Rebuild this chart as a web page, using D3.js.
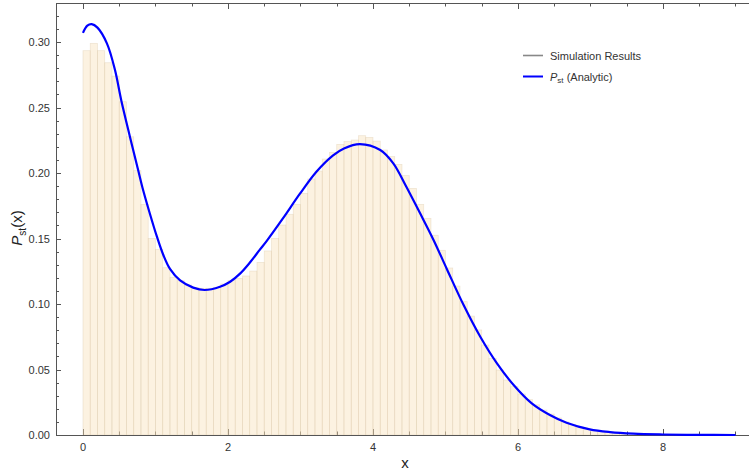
<!DOCTYPE html>
<html>
<head>
<meta charset="utf-8">
<script src="https://cdn.jsdelivr.net/npm/d3@7"></script>
<style>
  body { margin: 0; background: #fff; }
  svg text { font-family: "Liberation Sans", Arial, sans-serif; }
</style>
</head>
<body>
<div id="chart"></div>
<script>
//Data

	//Histogram: bins of width 0.1 starting at x = 0
	var binStart = 0,
		binWidth = 0.1;
	var simHeights = [
		0.2934, 0.2990, 0.2934, 0.2842, 0.2740, 0.2544, 0.2277, 0.2018, 0.1760, 0.1500,
		0.1417, 0.1277, 0.1204, 0.1178, 0.1145, 0.1125, 0.1120, 0.1120, 0.1127, 0.1153,
		0.1180, 0.1196, 0.1214, 0.1252, 0.1318, 0.1405, 0.1501, 0.1603, 0.1685, 0.1761,
		0.1845, 0.1954, 0.2015, 0.2107, 0.2158, 0.2219, 0.2240, 0.2252, 0.2285, 0.2272,
		0.2244, 0.2176, 0.2125, 0.2066, 0.1980, 0.1883, 0.1761, 0.1654, 0.1525, 0.1410,
		0.1275, 0.1137, 0.1018, 0.0908, 0.0802, 0.0687, 0.0585, 0.0496, 0.0420, 0.0369,
		0.0313, 0.0270, 0.0230, 0.0190, 0.0160, 0.0130, 0.0100, 0.0080, 0.0060, 0.0045,
		0.0035, 0.0025, 0.0020, 0.0015, 0.0010
	];

	//Analytic curve sample points
	var curveX = [0, 0.06, 0.12, 0.2, 0.33, 0.44, 0.53, 0.65, 0.76, 0.82, 0.92, 1.02, 1.11, 1.2,
		1.34, 1.52, 1.68, 1.89, 2.03, 2.17, 2.3, 2.44, 2.53, 2.76, 2.99, 3.22, 3.45, 3.6, 3.82,
		4.1, 4.28, 4.46, 4.65, 4.83, 5.02, 5.25, 5.48, 5.71, 5.94, 6.19, 6.44, 6.67, 6.99, 7.27,
		7.59, 8, 8.5, 9];
	var curveY = [0.307, 0.3125, 0.3137, 0.311, 0.299, 0.2790, 0.2550, 0.2272, 0.2025, 0.1890,
		0.1695, 0.1514, 0.1372, 0.1268, 0.1180, 0.1125, 0.1107, 0.1132, 0.117, 0.1234, 0.1315,
		0.1415, 0.1478, 0.1655, 0.1840, 0.2010, 0.2135, 0.2188, 0.2221, 0.2176, 0.2074, 0.1895,
		0.1692, 0.1495, 0.1266, 0.0992, 0.075, 0.0547, 0.0382, 0.0242, 0.0153, 0.0094, 0.0043,
		0.0022, 0.001, 0.0004, 0.0001, 0];

	//Ticks
	var xMajorTicks = [0, 2, 4, 6, 8];
	var xMinorTicks = [0.5, 1, 1.5, 2.5, 3, 3.5, 4.5, 5, 5.5, 6.5, 7, 7.5, 8.5, 9];
	var yMajorTicks = [0, 0.05, 0.10, 0.15, 0.20, 0.25, 0.30];
	var yMinorTicks = [0.01, 0.02, 0.03, 0.04, 0.06, 0.07, 0.08, 0.09, 0.11, 0.12, 0.13, 0.14,
		0.16, 0.17, 0.18, 0.19, 0.21, 0.22, 0.23, 0.24, 0.26, 0.27, 0.28, 0.29, 0.31, 0.32];

	var legendLabels = ["Simulation Results", "(Analytic)"];

//Canvas
	var W = 749, H = 472;
	var plot = {left: 56, right: 760, top: 3, bottom: 435};

	var xScale = d3.scaleLinear().domain([-0.372, 9.338]).range([plot.left, plot.right]);
	var yScale = d3.scaleLinear().domain([0, 0.3298]).range([plot.bottom, plot.top]);

	var svg = d3.select("#chart")
		.append("svg")
		.attr("width", W)
		.attr("height", H);

	var frameColor = "#555";

//Ticks go under the bars (the bars are see-through)
	var tickG = svg.append("g").attr("stroke", frameColor).attr("stroke-width", 1);

	function xTicks(list, len) {
		list.forEach(function(v) {
			var px = Math.round(xScale(v)) + 0.5;
			tickG.append("line").attr("x1", px).attr("x2", px)
				.attr("y1", plot.bottom).attr("y2", plot.bottom - len);
			tickG.append("line").attr("x1", px).attr("x2", px)
				.attr("y1", plot.top).attr("y2", plot.top + len);
		});
	}
	xTicks(xMajorTicks, 6);
	xTicks(xMinorTicks, 3.5);

	function yTicks(list, len) {
		list.forEach(function(v) {
			var py = Math.round(yScale(v)) + 0.5;
			tickG.append("line").attr("x1", plot.left).attr("x2", plot.left + len)
				.attr("y1", py).attr("y2", py);
		});
	}
	yTicks(yMajorTicks, 5);
	yTicks(yMinorTicks, 3);

//Histogram bars
	svg.append("g")
		.selectAll("rect")
		.data(simHeights)
		.enter()
		.append("rect")
			.attr("x", function(d, i) { return xScale(binStart + i * binWidth); })
			.attr("width", function(d, i) { return xScale(binStart + (i + 1) * binWidth) - xScale(binStart + i * binWidth); })
			.attr("y", function(d) { return yScale(d); })
			.attr("height", function(d) { return yScale(0) - yScale(d); })
			.attr("fill", "#f8dcb0")
			.attr("fill-opacity", 0.38)
			.attr("stroke", "#d8c2a2")
			.attr("stroke-opacity", 0.4)
			.attr("stroke-width", 0.7);

//Frame
	var frame = svg.append("g").attr("stroke", frameColor).attr("stroke-width", 1).attr("fill", "none");
	frame.append("line").attr("x1", plot.left + 0.5).attr("x2", plot.left + 0.5).attr("y1", plot.top).attr("y2", plot.bottom + 0.5);
	frame.append("line").attr("x1", plot.left).attr("x2", plot.right).attr("y1", plot.bottom + 0.5).attr("y2", plot.bottom + 0.5);
	frame.append("line").attr("x1", plot.left).attr("x2", plot.right).attr("y1", plot.top + 0.5).attr("y2", plot.top + 0.5);

//Tick labels
	svg.append("g").selectAll("text")
		.data(xMajorTicks)
		.enter()
		.append("text")
			.attr("x", function(d) { return xScale(d); })
			.attr("y", plot.bottom + 16)
			.attr("text-anchor", "middle")
			.attr("font-size", 11)
			.attr("fill", "#333")
			.text(function(d) { return d; });

	svg.append("g").selectAll("text")
		.data(yMajorTicks)
		.enter()
		.append("text")
			.attr("x", plot.left - 6)
			.attr("y", function(d) { return yScale(d) + 4; })
			.attr("text-anchor", "end")
			.attr("font-size", 11)
			.attr("fill", "#333")
			.text(function(d) { return d3.format(".2f")(d); });

//Axis labels
	svg.append("text")
		.attr("x", 405)
		.attr("y", 468)
		.attr("text-anchor", "middle")
		.attr("font-size", 15)
		.attr("fill", "#222")
		.text("x");

	var yLab = svg.append("text")
		.attr("transform", "translate(22,228) rotate(-90)")
		.attr("text-anchor", "middle")
		.attr("font-size", 15)
		.attr("fill", "#222");
	yLab.append("tspan").attr("font-style", "italic").text("P");
	yLab.append("tspan").attr("font-size", 10).attr("dy", 4).text("st");
	yLab.append("tspan").attr("dy", -4).text("(x)");

//Analytic curve
	var curvePts = curveX.map(function(x, i) { return [x, curveY[i]]; });
	var line = d3.line()
		.x(function(d) { return xScale(d[0]); })
		.y(function(d) { return yScale(d[1]); })
		.curve(d3.curveCatmullRom.alpha(0.5));

	svg.append("path")
		.datum(curvePts)
		.attr("d", line)
		.attr("fill", "none")
		.attr("stroke", "#0000ff")
		.attr("stroke-width", 2.2)
		.attr("stroke-linejoin", "round");

//Legend
	var lg = svg.append("g").attr("font-size", 11).attr("fill", "#333");
	lg.append("line").attr("x1", 523).attr("x2", 543).attr("y1", 55.5).attr("y2", 55.5)
		.attr("stroke", "#888").attr("stroke-width", 1.6);
	lg.append("text").attr("x", 550).attr("y", 59.5).text(legendLabels[0]);
	lg.append("line").attr("x1", 523).attr("x2", 543).attr("y1", 76.5).attr("y2", 76.5)
		.attr("stroke", "#0000ff").attr("stroke-width", 2);
	var t2 = lg.append("text").attr("x", 550).attr("y", 80.5);
	t2.append("tspan").attr("font-style", "italic").text("P");
	t2.append("tspan").attr("font-size", 8).attr("dy", 2).text("st");
	t2.append("tspan").attr("dy", -2).text(" " + legendLabels[1]);
</script>
</body>
</html>
